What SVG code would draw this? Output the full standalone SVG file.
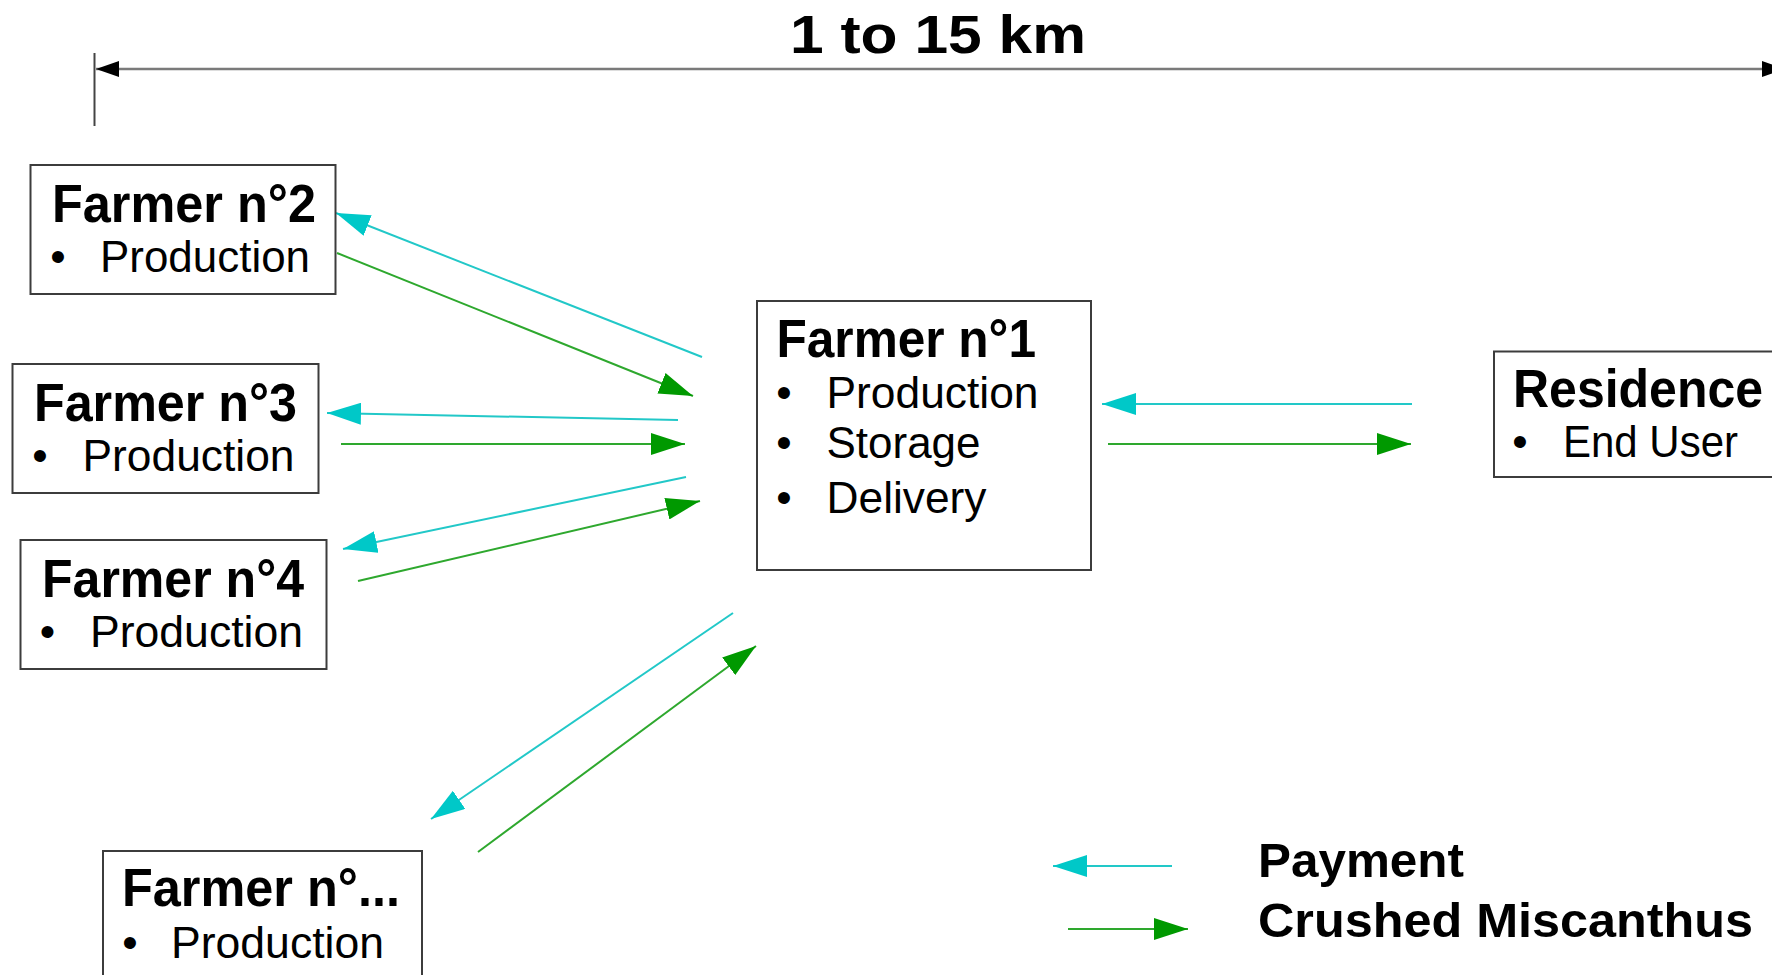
<svg xmlns="http://www.w3.org/2000/svg" width="1772" height="975" viewBox="0 0 1772 975">
<style>
.box{fill:#fff;stroke:#3c3c3c;stroke-width:2}
.t{font-family:"Liberation Sans",Arial,sans-serif;font-weight:bold;font-size:53px;fill:#000}
.b{font-family:"Liberation Sans",Arial,sans-serif;font-size:44px;fill:#000}
.bul{font-family:"Liberation Sans",Arial,sans-serif;font-size:44px;fill:#000;text-anchor:middle}
.pay{stroke:#22c8c8;stroke-width:2;fill:none}
.cru{stroke:#2ea82e;stroke-width:2;fill:none}
.dim{stroke:#7a7a7a;stroke-width:2.5;fill:none}
.lg{font-family:"Liberation Sans",Arial,sans-serif;font-weight:bold;font-size:48px;fill:#000}
</style>
<defs>
<marker id="hc" viewBox="0 0 34 22" refX="34" refY="11" markerWidth="34" markerHeight="22" orient="auto" markerUnits="userSpaceOnUse"><path d="M0,0 L34,11 L0,22 z" fill="#00c8c8"/></marker>
<marker id="hg" viewBox="0 0 34 22" refX="34" refY="11" markerWidth="34" markerHeight="22" orient="auto" markerUnits="userSpaceOnUse"><path d="M0,0 L34,11 L0,22 z" fill="#009900"/></marker>
<marker id="hk" viewBox="0 0 23 16" refX="23" refY="8" markerWidth="23" markerHeight="16" orient="auto-start-reverse" markerUnits="userSpaceOnUse"><path d="M0,0 L23,8 L0,16 z" fill="#000"/></marker>
</defs>
<rect width="1772" height="975" fill="#fff"/>

<g id="scale">
<line x1="94.5" y1="53" x2="94.5" y2="126" stroke="#444" stroke-width="2"/>
<line class="dim" x1="96" y1="69" x2="1785" y2="69" marker-start="url(#hk)" marker-end="url(#hk)"/>
<text class="t" x="790" y="53" font-size="60" textLength="296" lengthAdjust="spacingAndGlyphs">1 to 15 km</text>
</g>

<g id="connectors">
<line class="pay" x1="702" y1="357" x2="336" y2="213" marker-end="url(#hc)"/>
<line class="cru" x1="337" y1="253" x2="693" y2="396" marker-end="url(#hg)"/>
<line class="pay" x1="678" y1="420" x2="327" y2="413" marker-end="url(#hc)"/>
<line class="cru" x1="341" y1="444" x2="685" y2="444" marker-end="url(#hg)"/>
<line class="pay" x1="686" y1="477" x2="343" y2="549" marker-end="url(#hc)"/>
<line class="cru" x1="358" y1="581" x2="700" y2="501" marker-end="url(#hg)"/>
<line class="pay" x1="733" y1="613" x2="431" y2="819" marker-end="url(#hc)"/>
<line class="cru" x1="478" y1="852" x2="756" y2="646" marker-end="url(#hg)"/>
<line class="pay" x1="1412" y1="404" x2="1102" y2="404" marker-end="url(#hc)"/>
<line class="cru" x1="1108" y1="444" x2="1411" y2="444" marker-end="url(#hg)"/>
</g>

<g id="farmer2">
<rect class="box" x="30.5" y="165" width="305" height="129"/>
<text class="t" x="52" y="222" textLength="264" lengthAdjust="spacingAndGlyphs">Farmer n°2</text>
<text class="bul" x="58" y="272">•</text>
<text class="b" x="100" y="272" textLength="210" lengthAdjust="spacingAndGlyphs">Production</text>
</g>

<g id="farmer3">
<rect class="box" x="12.5" y="364" width="306" height="129"/>
<text class="t" x="34" y="421" textLength="263" lengthAdjust="spacingAndGlyphs">Farmer n°3</text>
<text class="bul" x="40" y="471">•</text>
<text class="b" x="82.5" y="471" textLength="212" lengthAdjust="spacingAndGlyphs">Production</text>
</g>

<g id="farmer4">
<rect class="box" x="20.5" y="540" width="306" height="129"/>
<text class="t" x="42" y="597" textLength="262" lengthAdjust="spacingAndGlyphs">Farmer n°4</text>
<text class="bul" x="47.5" y="647">•</text>
<text class="b" x="90" y="647" textLength="213" lengthAdjust="spacingAndGlyphs">Production</text>
</g>

<g id="farmerN">
<rect class="box" x="103" y="851" width="319" height="140"/>
<text class="t" x="122" y="906" textLength="278" lengthAdjust="spacingAndGlyphs">Farmer n°...</text>
<text class="bul" x="130" y="958">•</text>
<text class="b" x="171" y="958" textLength="213" lengthAdjust="spacingAndGlyphs">Production</text>
</g>

<g id="farmer1">
<rect class="box" x="757" y="301" width="334" height="269"/>
<text class="t" x="776.5" y="357" textLength="259.5" lengthAdjust="spacingAndGlyphs">Farmer n°1</text>
<text class="bul" x="784" y="408">•</text>
<text class="b" x="826.5" y="408" textLength="212" lengthAdjust="spacingAndGlyphs">Production</text>
<text class="bul" x="784" y="458">•</text>
<text class="b" x="826.5" y="458" textLength="154" lengthAdjust="spacingAndGlyphs">Storage</text>
<text class="bul" x="784" y="513">•</text>
<text class="b" x="826.5" y="513" textLength="160" lengthAdjust="spacingAndGlyphs">Delivery</text>
</g>

<g id="residence">
<rect class="box" x="1494" y="351.5" width="290" height="125.5"/>
<text class="t" x="1513" y="407" textLength="250" lengthAdjust="spacingAndGlyphs">Residence</text>
<text class="bul" x="1520" y="457">•</text>
<text class="b" x="1563" y="457" textLength="175" lengthAdjust="spacingAndGlyphs">End User</text>
</g>

<g id="legend">
<line class="pay" x1="1172" y1="866" x2="1053" y2="866" marker-end="url(#hc)"/>
<line class="cru" x1="1068" y1="929" x2="1188" y2="929" marker-end="url(#hg)"/>
<text class="lg" x="1258" y="877" textLength="206" lengthAdjust="spacingAndGlyphs">Payment</text>
<text class="lg" x="1258" y="937" textLength="495" lengthAdjust="spacingAndGlyphs">Crushed Miscanthus</text>
</g>
</svg>
